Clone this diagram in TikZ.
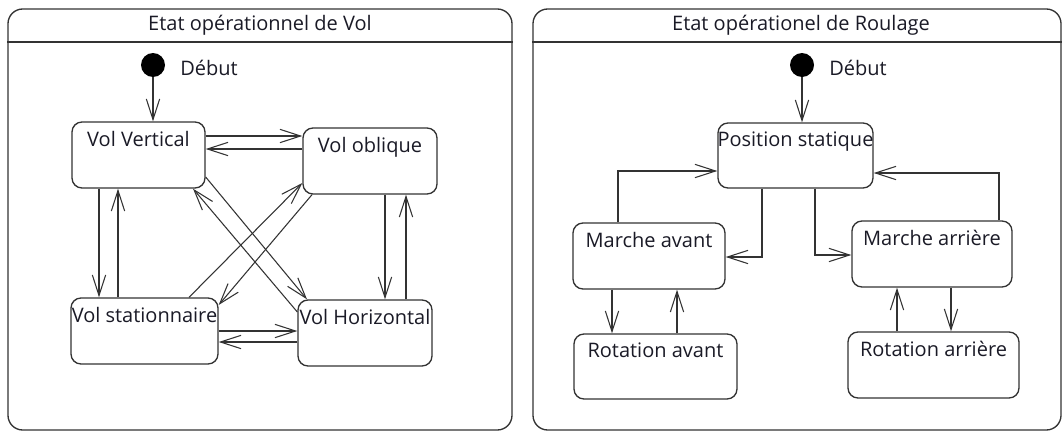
\documentclass[tikz,border=0pt]{standalone}
\usepackage{fontspec}
\setmainfont{Open Sans}
\usetikzlibrary{arrows.meta,calc}
\definecolor{ln}{HTML}{333333}
\definecolor{tx}{HTML}{1A1A26}
\begin{document}
\begin{tikzpicture}[x=0.75pt,y=-0.75pt,
  lab/.style={text=tx, font=\fontsize{15}{17}\selectfont, inner sep=0pt, text height=10.5pt, text depth=3pt},
  box/.style 2 args={draw=ln, line width=1pt, rounded corners=7.5pt, inner sep=0pt,
    minimum width=#1*0.75pt, minimum height=#2*0.75pt},
  frm/.style 2 args={draw=ln, line width=1pt, rounded corners=11pt, inner sep=0pt,
    minimum width=#1*0.75pt, minimum height=#2*0.75pt},
  init/.style={circle, fill=black, minimum size=18pt, inner sep=0pt},
  tr/.style={draw=ln, line width=0.8pt, -{Straight Barb[length=15.5pt,width=10pt,line width=0.8pt]}},
  hdr/.style={draw=ln, line width=1pt}
]
\useasboundingbox (0,0) rectangle (1063,432);
% frames
\node[frm={504}{421}] (f1) at (260,219.5) {};
\node[frm={528}{421}] (f2) at (797,219.5) {};
\draw[hdr] (f1.west |- 0,42) -- (f1.east |- 0,42);
\draw[hdr] (f2.west |- 0,42) -- (f2.east |- 0,42);
\node[lab] (t1) at (260,26) {Etat opérationnel de Vol};
\node[lab] (t2) at (801,26) {Etat opérationel de Roulage};
% left states
\node[init] (s1) at (153,65) {};
\node[lab, anchor=west] (d1) at (180,70) {Début};
\node[box={133}{66}, label={[lab,yshift=10.5pt]center:Vol Vertical}] (vv) at (138.5,155) {};
\node[box={134}{66}, label={[lab,yshift=10.5pt]center:Vol oblique}] (vo) at (370,161) {};
\node[box={147}{66}, label={[lab,yshift=10.5pt]center:Vol stationnaire}] (vs) at (144.5,331) {};
\node[box={134}{66}, label={[lab,yshift=10.5pt]center:Vol Horizontal}] (vh) at (365,333) {};
% left transitions
\draw[tr] (s1) -- (s1 |- vv.north);
\draw[tr] (vv.east |- 0,136) -- (vo.west |- 0,136);
\draw[tr] (vo.west |- 0,149) -- (vv.east |- 0,149);
\draw[tr] (vv.south -| 99,0) -- (vs.north -| 99,0);
\draw[tr] (vs.north -| 118,0) -- (vv.south -| 118,0);
\draw[tr] (vo.south -| 385,0) -- (vh.north -| 385,0);
\draw[tr] (vh.north -| 406,0) -- (vo.south -| 406,0);
\draw[tr] (vs.east |- 0,331) -- (vh.west |- 0,331);
\draw[tr] (vh.west |- 0,342) -- (vs.east |- 0,342);
\draw[tr] (vv.east |- 0,177) -- (vh.north -| 307,0);
\draw[tr] (vh.west |- 0,312) -- (vv.south -| 193,0);
\draw[tr] (vs.north -| 189,0) -- (vo.west |- 0,183);
\draw[tr] (vo.south -| 312,0) -- (vs.east |- 0,305);
% right states
\node[init] (s2) at (802,65) {};
\node[lab, anchor=west] (d2) at (829,70) {Début};
\node[box={155}{65}, label={[lab,yshift=10.5pt]center:Position statique}] (ps) at (795.5,155.5) {};
\node[box={152}{66}, label={[lab,yshift=10.5pt]center:Marche avant}] (ma) at (649,256) {};
\node[box={163}{65}, label={[lab,yshift=10.5pt]center:Rotation avant}] (ra) at (655.5,366.5) {};
\node[box={160}{66}, label={[lab,yshift=10.5pt]center:Marche arrière}] (mar) at (932,254) {};
\node[box={171}{66}, label={[lab,yshift=10.5pt]center:Rotation arrière}] (rar) at (933.5,365) {};
% right transitions
\draw[tr] (s2) -- (s2 |- ps.north);
\draw[tr] (ps.south -| 762,0) |- (ma.east |- 0,257);
\draw[tr] (ma.north -| 618,0) |- (ps.west |- 0,171);
\draw[tr] (ps.south -| 815,0) |- (mar.west |- 0,255);
\draw[tr] (mar.north -| 999,0) |- (ps.east |- 0,173);
\draw[tr] (ma.south -| 612,0) -- (ra.north -| 612,0);
\draw[tr] (ra.north -| 677,0) -- (ma.south -| 677,0);
\draw[tr] (rar.north -| 897,0) -- (mar.south -| 897,0);
\draw[tr] (mar.south -| 951,0) -- (rar.north -| 951,0);
\end{tikzpicture}
\end{document}
